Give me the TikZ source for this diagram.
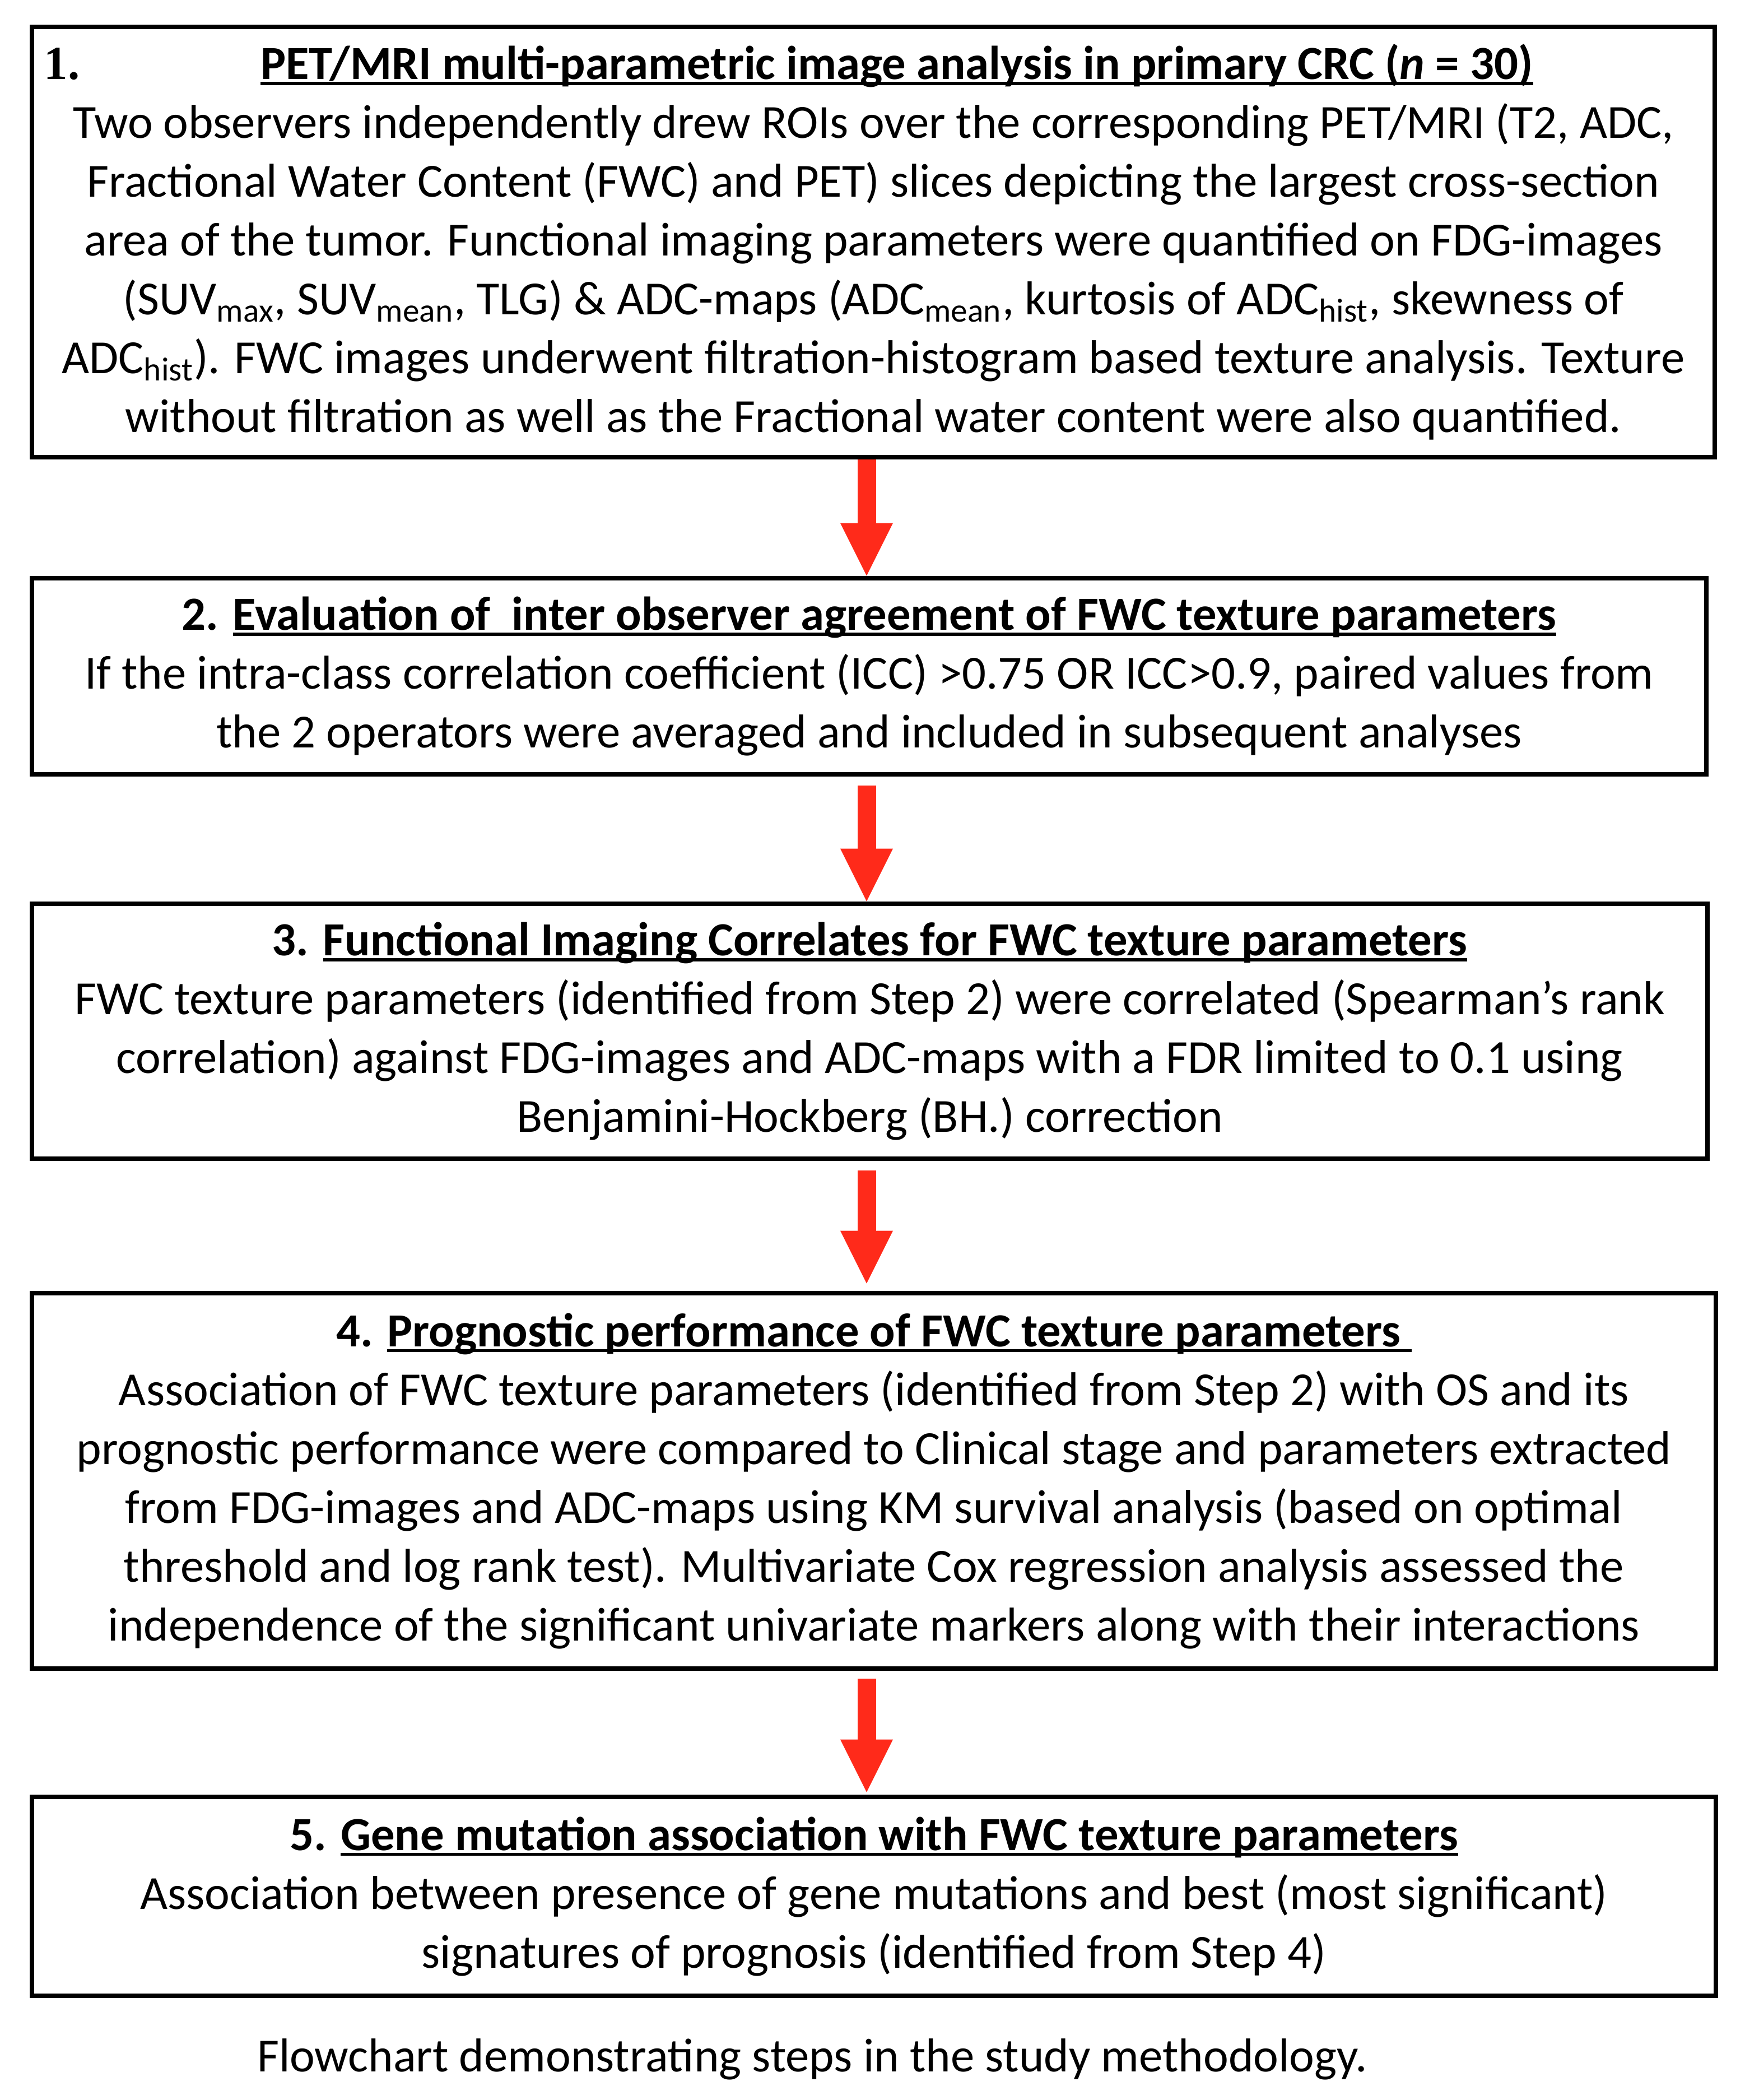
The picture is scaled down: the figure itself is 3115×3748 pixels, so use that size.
\documentclass[tikz,border=0pt]{standalone}
\usepackage{fontspec}
\setmainfont{Carlito}
\newfontfamily\numserif{Liberation Serif}
\usetikzlibrary{arrows.meta}
\definecolor{arrowred}{RGB}{255,42,26}
\newsavebox\ulbox
\newcommand{\myul}[1]{\sbox\ulbox{#1}\rlap{\rule[-2.6pt]{\wd\ulbox}{1.4pt}}\usebox\ulbox}
\tikzset{
  stepbox/.style={draw=black, line width=2.2pt, rectangle, inner sep=0pt, align=center,
    font=\fontsize{21.2}{26.25}\selectfont},
  flowarrow/.style={draw=arrowred, line width=8.25pt,
    -{Triangle[width=23.5pt,length=23.5pt,line width=0pt]}},
  captext/.style={font=\fontsize{21.2}{26.25}\selectfont, inner sep=0pt}
}
\begin{document}
\begin{tikzpicture}[x=0.25pt,y=-0.25pt]
\useasboundingbox[fill=white] (0,0) rectangle (3115,3748);

\node[stepbox, minimum width=751pt, minimum height=192pt] (b1) at (1559,432) {%
\hspace*{21pt}\llap{{\numserif\bfseries 1.}\hspace{80.75pt}}\myul{\bfseries PET/MRI multi-parametric image analysis in primary CRC (\textit{n} = 30)}\\
Two observers independently drew ROIs over the corresponding PET/MRI (T2, ADC,\\
Fractional Water Content (FWC) and PET) slices depicting the largest cross-section\\
area of the tumor. Functional imaging parameters were quantified on FDG-images\\
(SUV\textsubscript{max}, SUV\textsubscript{mean}, TLG) \& ADC-maps (ADC\textsubscript{mean}, kurtosis of ADC\textsubscript{hist}, skewness of\\
ADC\textsubscript{hist}). FWC images underwent filtration-histogram based texture analysis. Texture\\
without filtration as well as the Fractional water content were also quantified.};

\node[stepbox, minimum width=747.25pt, minimum height=87.5pt] (b2) at (1551.5,1207) {%
\textbf{2. \myul{Evaluation of\ \ inter observer agreement of FWC texture parameters}}\\
If the intra-class correlation coefficient (ICC) >0.75 OR ICC>0.9, paired values from\\
the 2 operators were averaged and included in subsequent analyses};

\node[stepbox, minimum width=747.75pt, minimum height=113.75pt] (b3) at (1552.5,1840.5) {%
\textbf{3. \myul{Functional Imaging Correlates for FWC texture parameters}}\\
FWC texture parameters (identified from Step 2) were correlated (Spearman’s rank\\
correlation) against FDG-images and ADC-maps with a FDR limited to 0.1 using\\
Benjamini-Hockberg (BH.) correction};

\node[stepbox, minimum width=751.5pt, minimum height=167.5pt] (b4) at (1560,2643) {%
\textbf{4. \myul{Prognostic performance of FWC texture parameters\ }}\\
Association of FWC texture parameters (identified from Step 2) with OS and its\\
prognostic performance were compared to Clinical stage and parameters extracted\\
from FDG-images and ADC-maps using KM survival analysis (based on optimal\\
threshold and log rank test). Multivariate Cox regression analysis assessed the\\
independence of the significant univariate markers along with their interactions};

\node[stepbox, minimum width=751.5pt, minimum height=88.75pt] (b5) at (1560,3384.5) {%
\textbf{5. \myul{Gene mutation association with FWC texture parameters}}\\
Association between presence of gene mutations and best (most significant)\\
signatures of prognosis (identified from Step 4)};

\node[captext] (cap) at (1450,3675) {Flowchart demonstrating steps in the study methodology.};

\coordinate (ax) at (1547,0);
\draw[flowarrow] (b1.south -| ax) -- (b2.north -| ax);
\draw[flowarrow, shorten <=4pt] (b2.south -| ax) -- (b3.north -| ax);
\draw[flowarrow, shorten <=4.25pt, shorten >=3.25pt] (b3.south -| ax) -- (b4.north -| ax);
\draw[flowarrow, shorten <=3.5pt, shorten >=1pt] (b4.south -| ax) -- (b5.north -| ax);
\end{tikzpicture}
\end{document}
